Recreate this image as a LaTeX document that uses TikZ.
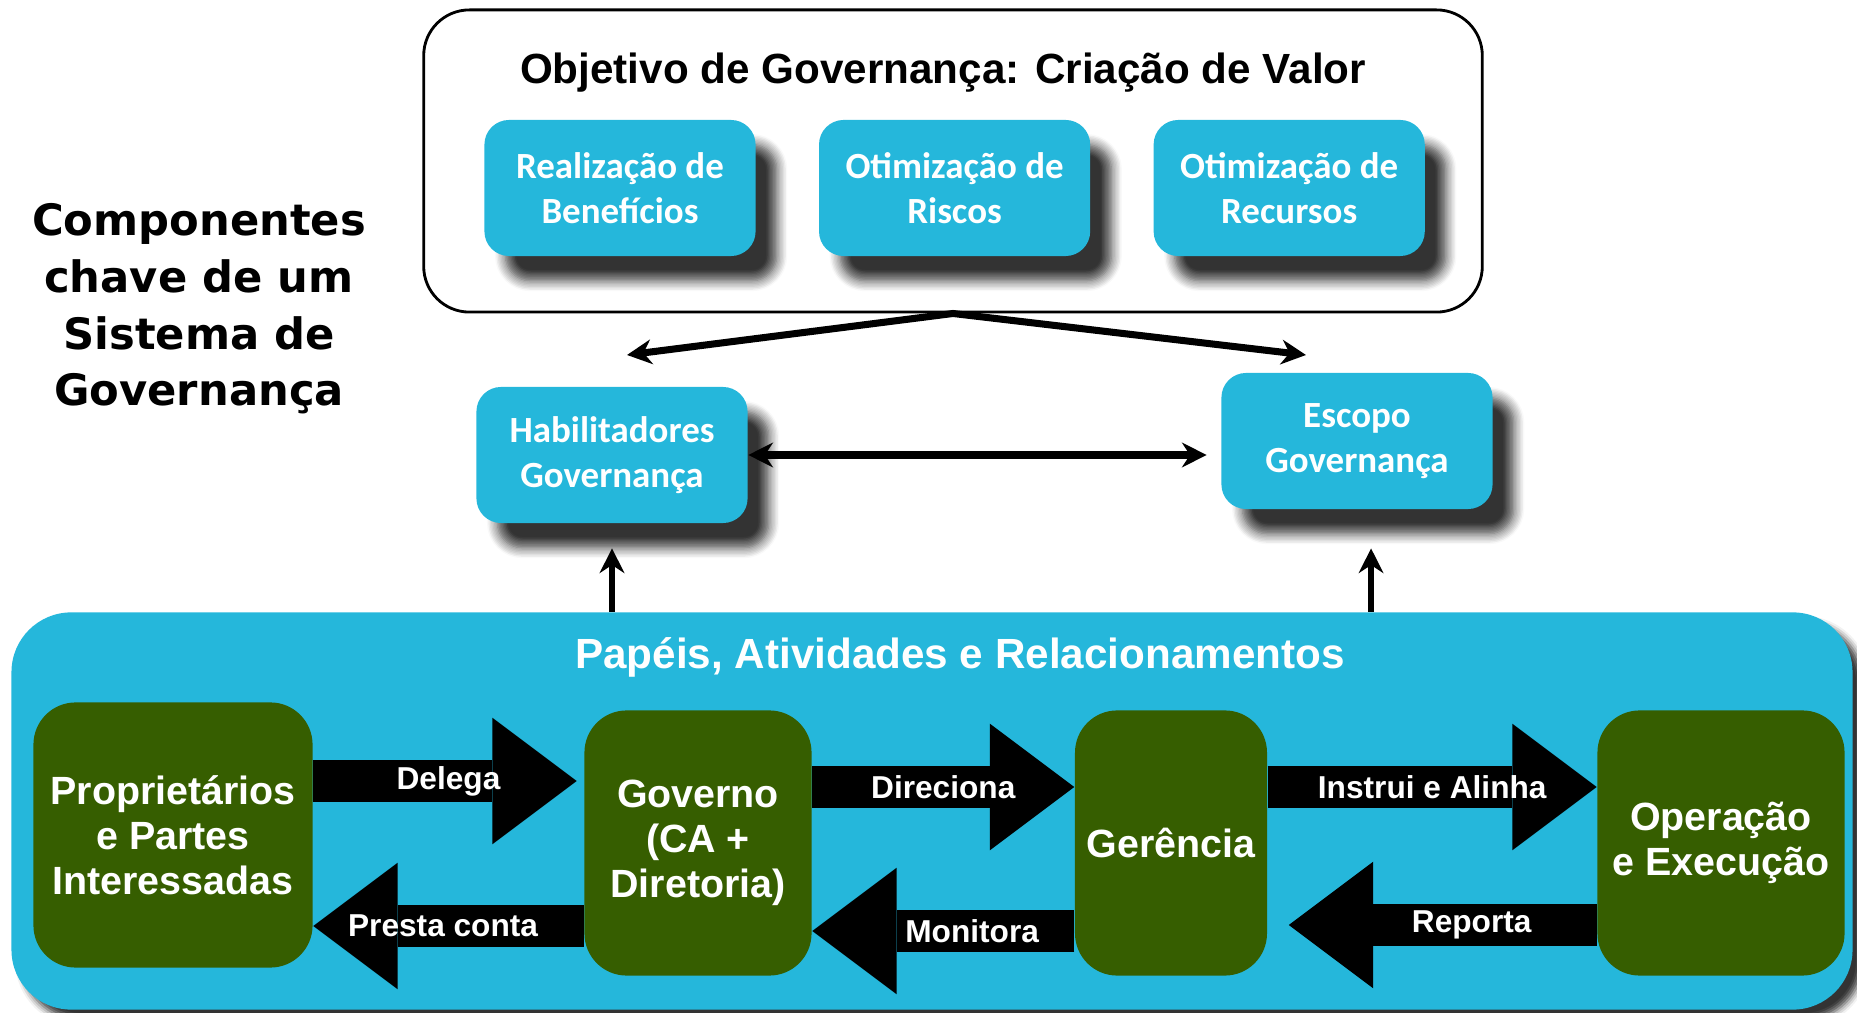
\documentclass[tikz,border=0pt]{standalone}
\usepackage{fontspec}
\setmainfont{Liberation Sans}
\newfontfamily\calib{Carlito}
\newfontfamily\tahoma{DejaVu Sans}
\usetikzlibrary{positioning, arrows.meta, shadows.blur}

\definecolor{govcyan}{RGB}{37,183,219}
\definecolor{govgreen}{RGB}{54,94,0}

\begin{document}
\begin{tikzpicture}[x=0.01cm, y=-0.01cm]
\useasboundingbox (0,0) rectangle (1857,1013);

\tikzstyle{arrow} = [line width=2pt, line join=miter, -{Stealth[length=7pt,width=7pt]}]
\tikzstyle{bigarrow} = [line width=12pt, -{Triangle[length=24pt,width=36pt,line width=0pt]}]
\tikzset{boxshadow/.style = {blur shadow={shadow xshift=6pt, shadow yshift=-7pt, shadow blur radius=3pt, shadow blur steps=8, shadow opacity=80}}, }
\tikzset{goal/.style = {rectangle, rounded corners=7pt, fill=govcyan, text=white, align=center, minimum width=2.71cm, minimum height=1.36cm, font=\calib\bfseries\fontsize{10.5}{12.8}\selectfont, boxshadow}, }
\tikzset{role/.style = {rectangle, rounded corners=12pt, fill=govgreen, text=white, align=center, minimum height=2.65cm, font=\bfseries\fontsize{11.2}{12.8}\selectfont}, }
\tikzset{verb/.style = {text=white, font=\bfseries\fontsize{9}{10}\selectfont}, }

% objetivo
\node[draw, line width=0.8pt, rounded corners=13pt, minimum width=10.58cm, minimum height=3.02cm] (Obj) at (953,161) {};
\node[font=\bfseries\fontsize{12}{14}\selectfont] (ObjT) at (943,73) {Objetivo de Governança: Criação de Valor};
\node[goal] (Ben) at (620,188) {Realização de\\Benefícios};
\node[goal, right=0.62cm of Ben] (Ris) {Otimização de\\Riscos};
\node[goal, right=0.62cm of Ris] (Rec) {Otimização de\\Recursos};

\node[font=\tahoma\bfseries\fontsize{12.3}{16.1}\selectfont, align=center] (Comp) at (199,309) {Componentes\\chave de um\\Sistema de\\Governança};

\node[goal] (Hab) at (612,455) {Habilitadores\\Governança};
\node[goal] (Esc) at (1357,441) {Escopo\\Governança};

% papeis
\node[rectangle, rounded corners=17pt, fill=govcyan, minimum width=18.4cm, minimum height=3.97cm, blur shadow={shadow xshift=3pt, shadow yshift=-3pt, shadow blur radius=2pt, shadow opacity=80}] (Pap) at (932,811) {};
\node[text=white, font=\bfseries\fontsize{12}{14}\selectfont] (PapT) at (960,657) {Papéis, Atividades e Relacionamentos};

\node[role, minimum width=2.79cm] (Own) at (173,835) {Proprietários\\e Partes\\Interessadas};
\node[role, minimum width=2.27cm] (Gov) at (698,843) {Governo\\(CA +\\Diretoria)};
\node[role, minimum width=1.90cm] (Ger) at (1171,843) {Gerência};
\node[role, minimum width=2.47cm] (Op) at (1721,843) {Operação\\e Execução};

\coordinate (toHab) at (627,355);
\coordinate (toEsc) at (1306,355);

\draw[arrow, {Stealth[length=7pt,width=7pt]}-{Stealth[length=7pt,width=7pt]}] (toHab) -- (Obj.south) -- (toEsc);
\draw[arrow, {Stealth[length=7pt,width=7pt]}-{Stealth[length=7pt,width=7pt]}, shorten >=4pt] (Hab.east) -- (Hab.east -| Esc.west);
\draw[arrow, line width=1.6pt, shorten >=7pt] (Hab.south |- Pap.north) -- (Hab.south);
\draw[arrow, line width=1.6pt, shorten >=11pt] ([xshift=4pt]Esc.south |- Pap.north) -- ([xshift=4pt]Esc.south);

\draw[bigarrow, shorten >=2pt] (Own.east |- 0,781) -- (Gov.west |- 0,781) node[verb, midway] {Delega};
\draw[bigarrow] (Gov.west |- 0,926) -- (Own.east |- 0,926) node[verb, pos=0.52] {Presta conta};
\draw[bigarrow] (Gov.east |- 0,787) -- (Ger.west |- 0,787) node[verb, midway] {Direciona};
\draw[bigarrow] (Ger.west |- 0,931) -- (Gov.east |- 0,931) node[verb, pos=0.39] {Monitora};
\draw[bigarrow] (Ger.east |- 0,787) -- (Op.west |- 0,787) node[verb, midway] {Instrui e Alinha};
\draw[bigarrow, shorten >=6pt] (Op.west |- 0,925) -- (Ger.east |- 0,925) node[verb, pos=0.38] {Reporta};
\end{tikzpicture}
\end{document}
